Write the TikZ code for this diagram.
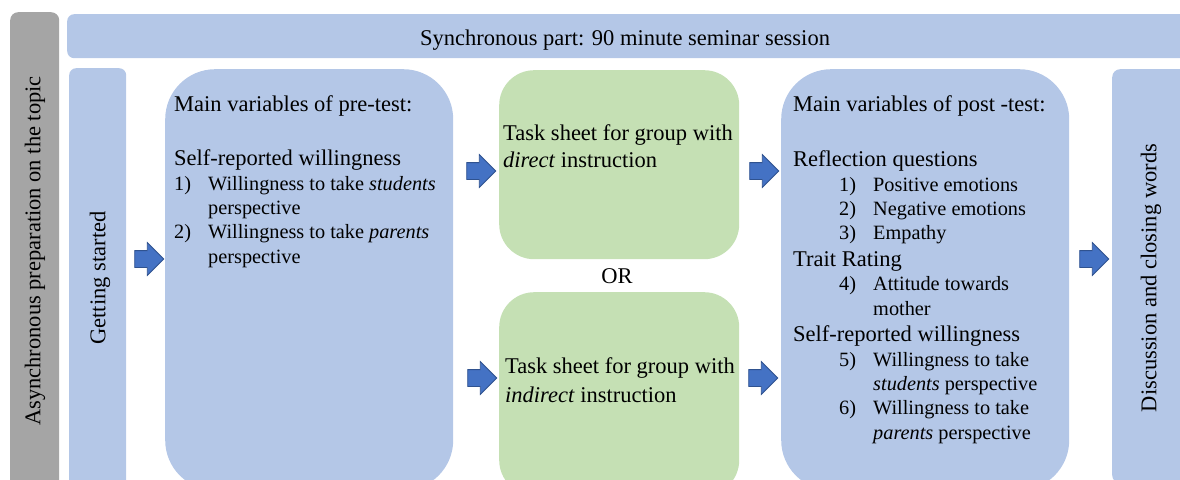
\documentclass[tikz,border=0pt]{standalone}
\usepackage{fontspec}
\setmainfont{Liberation Serif}
\usetikzlibrary{positioning,shapes.arrows}
\definecolor{panelblue}{HTML}{B4C7E7}
\definecolor{panelgreen}{HTML}{C5E0B4}
\definecolor{panelgrey}{HTML}{A5A5A5}
\definecolor{arrowblue}{HTML}{4472C4}
\definecolor{arrowedge}{HTML}{2F528F}
\newcommand{\itemfont}{\fontsize{20.3}{24.3}\selectfont}
\newcommand{\listno}[1]{\makebox[34pt][l]{#1}}

\begin{document}
\begin{tikzpicture}[x=1pt, y=-1pt,
    font=\fontsize{22.5}{24.3}\selectfont,
    panel/.style={anchor=north west, inner sep=0, draw=none},
    bluepanel/.style={panel, fill=panelblue},
    greenpanel/.style={panel, fill=panelgreen},
    label/.style={anchor=base west, inner sep=0, align=left},
    blockarrow/.style={single arrow, fill=arrowblue, draw=arrowedge,
      line width=0.8pt, minimum height=29pt, inner xsep=0pt,
      inner ysep=8pt, single arrow head extend=8pt}]
  \useasboundingbox (0,0) rectangle (1180,479);
  % frame: preparation and session bars
  \node[panel, fill=panelgrey, minimum width=49pt, minimum height=480pt,
    rounded corners=8pt] (asyncbar) at (10,12) {};
  \node[bluepanel, minimum width=1130pt, minimum height=44pt,
    rounded corners=7pt] (syncbar) at (67,14) {};
  \node[anchor=center, rotate=90] (asynctext) at (35,251)
    {Asynchronous preparation on the topic};
  \node[anchor=base, inner sep=0] (synctext) at (625,45)
    {Synchronous part: 90 minute seminar session};
  % stages of the seminar
  \node[bluepanel, minimum width=57pt, minimum height=430pt,
    rounded corners=7pt] (startbar) at (69,68) {};
  \node[bluepanel, minimum width=288pt, minimum height=421pt,
    rounded corners=50pt] (prebox) at (165,69) {};
  \node[greenpanel, minimum width=240pt, minimum height=189pt,
    rounded corners=35pt] (taskdirect) at (499,70) {};
  \node[greenpanel, minimum width=240pt, minimum height=203pt,
    rounded corners=35pt] (taskindirect) at (499,292) {};
  \node[bluepanel, minimum width=288pt, minimum height=421pt,
    rounded corners=50pt] (postbox) at (781,69) {};
  \node[bluepanel, minimum width=90pt, minimum height=414pt,
    rounded corners=8pt] (closebar) at (1112,69) {};
  % texts (base = last line)
  \node[anchor=center, rotate=90] (starttext) at (100,278) {Getting started};
  \node[label] (pretext) at (174,263) {Main variables of pre-test:\\[29.7pt]
    Self-reported willingness\\
    {\itemfont\listno{1)}Willingness to take \textit{students}}\\
    {\itemfont\hspace*{34pt}perspective}\\
    {\itemfont\listno{2)}Willingness to take \textit{parents}}\\
    {\itemfont\hspace*{34pt}perspective}};
  \node[label, font=\fontsize{22.5}{27}\selectfont] (directtext) at (503,167)
    {Task sheet for group with\\ \textit{direct} instruction};
  \node[anchor=base, inner sep=0] (ortext) at (617,283) {OR};
  \node[label, font=\fontsize{22.5}{29}\selectfont] (indirecttext) at (505,402)
    {Task sheet for group with\\ \textit{indirect} instruction};
  \node[label] (posttext) at (793,439) {Main variables of post -test:\\[30.7pt]
    Reflection questions\\
    {\itemfont\hspace*{46pt}\listno{1)}Positive emotions}\\
    {\itemfont\hspace*{46pt}\listno{2)}Negative emotions}\\
    {\itemfont\hspace*{46pt}\listno{3)}Empathy}\\[2.5pt]
    Trait Rating\\
    {\itemfont\hspace*{46pt}\listno{4)}Attitude towards}\\
    {\itemfont\hspace*{80pt}mother}\\[2.5pt]
    Self-reported willingness\\
    {\itemfont\hspace*{46pt}\listno{5)}Willingness to take}\\
    {\itemfont\hspace*{80pt}\textit{students} perspective}\\
    {\itemfont\hspace*{46pt}\listno{6)}Willingness to take}\\
    {\itemfont\hspace*{80pt}\textit{parents} perspective}};
  \node[anchor=center, rotate=90] (closetext) at (1151,278)
    {Discussion and closing words};
  % block arrows between the stages
  \node[blockarrow] (arrpre) at (145,259) {};
  \node[blockarrow] (arrdirect) at (477,171) {};
  \node[blockarrow] (arrindirect) at (478,378) {};
  \node[blockarrow] (arrpostd) at (760,171) {};
  \node[blockarrow] (arrposti) at (759,378) {};
  \node[blockarrow] (arrclose) at (1090,259) {};
\end{tikzpicture}
\end{document}
